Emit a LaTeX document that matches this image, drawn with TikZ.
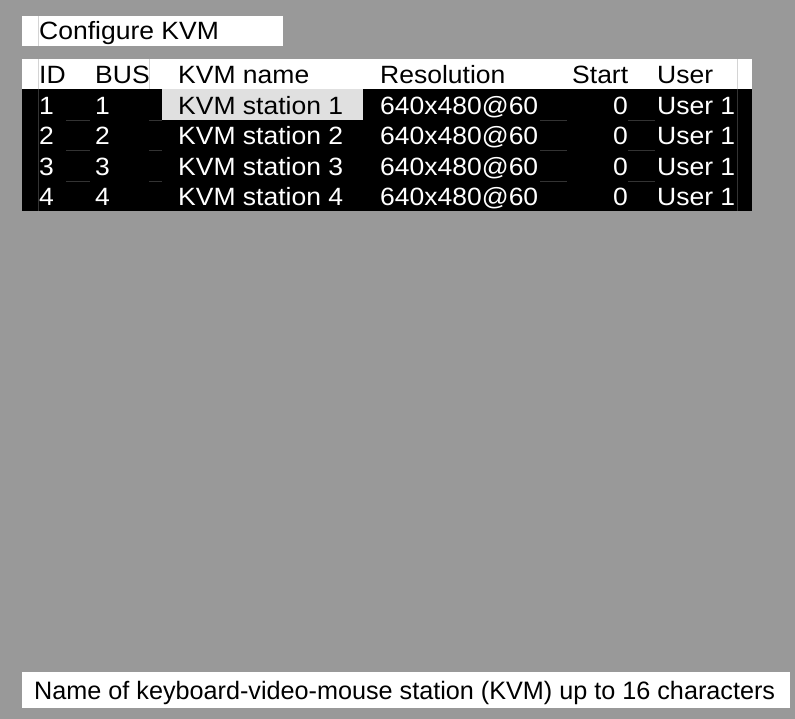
\documentclass[tikz,border=0pt]{standalone}
\usepackage{fontspec}
\setmainfont{Liberation Sans}
\newfontfamily\widesans{Liberation Sans}[FakeStretch=1.06]
\definecolor{screen}{HTML}{999999}
\definecolor{hilite}{HTML}{E0E0E0}
\definecolor{gridlight}{HTML}{D4D4D4}
\definecolor{griddark}{HTML}{333333}
\begin{document}
\begin{tikzpicture}[
    x=1pt, y=-1pt,
    txt/.style={anchor=base west, inner sep=0pt, font=\widesans\fontsize{25}{28}\selectfont},
    hdr/.style={txt, text=black},
    val/.style={txt, text=white},
    num/.style={val, anchor=base east}
  ]
  % screen background
  \fill[screen] (0,0) rectangle (795,719);
  \useasboundingbox (0,0) rectangle (795,719);

  % title box
  \fill[white] (22,16) rectangle (283,46);
  \draw[gridlight, line width=0.6pt] (38,16) -- (38,46);
  \node[hdr] (title) at (39,40) {Configure KVM};

  % table header and rows
  \fill[white] (22,59) rectangle (752,89);
  \fill[black] (22,89) rectangle (752,211);
  \fill[hilite] (162,89) rectangle (363,120);
  \foreach \x in {38,149,737}
    \draw[gridlight, line width=0.6pt] (\x,59) -- (\x,89);
  \foreach \x in {38,737}
    \draw[griddark, line width=0.6pt] (\x,89) -- (\x,211);
  \foreach \y in {120,150,181}
    \draw[griddark, line width=0.6pt] (66,\y) -- (90,\y) (149,\y) -- (162,\y) (540,\y) -- (567,\y) (628,\y) -- (655,\y);

  \node[hdr] (hid)   at (39,84)  {ID};
  \node[hdr] (hbus)  at (95,84)  {BUS};
  \node[hdr] (hname) at (178,84) {KVM name};
  \node[hdr] (hres)  at (380,84) {Resolution};
  \node[hdr] (hstart) at (572,84) {Start};
  \node[hdr] (huser) at (657,84) {User};

  \foreach \n/\y in {1/115,2/145,3/176,4/206}{
    \node[val] (id\n)  at (39,\y)  {\n};
    \node[val] (bus\n) at (95,\y)  {\n};
    \node[val] (res\n) at (380,\y) {640x480@60};
    \node[num] (start\n) at (628,\y) {0};
    \node[val] (user\n) at (657,\y) {User 1};
  }
  \node[hdr] (name1) at (178,115) {KVM station 1};
  \node[val] (name2) at (178,145) {KVM station 2};
  \node[val] (name3) at (178,176) {KVM station 3};
  \node[val] (name4) at (178,206) {KVM station 4};

  % help line
  \fill[white] (22,672) rectangle (790,708);
  \node[hdr, font=\fontsize{25.2}{28}\selectfont] (help) at (34,699) {Name of keyboard-video-mouse station (KVM) up to 16 characters};
\end{tikzpicture}
\end{document}
